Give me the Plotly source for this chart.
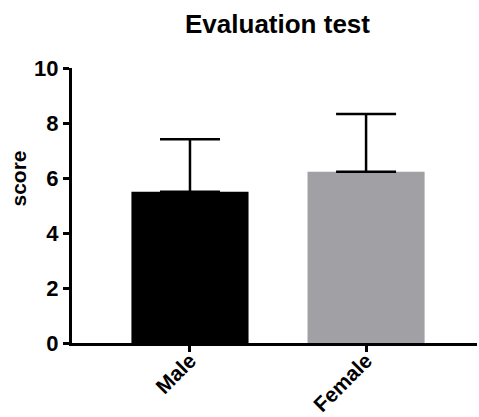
import plotly.graph_objects as go

categories = ["Male", "Female"]
means = [5.5, 6.23]
sds = [1.91, 2.1]
colors = ["#000000", "#A1A0A5"]
y_ticks = [0, 2, 4, 6, 8, 10]

FONT = "Arial, Liberation Sans, Helvetica, sans-serif"

fig = go.Figure()
fig.add_trace(go.Bar(
    x=categories, y=means,
    marker=dict(color=colors, line=dict(width=0)),
    width=0.665,
    error_y=dict(type="data", symmetric=False, array=sds,
                 arrayminus=[0] * len(sds), color="#000000",
                 thickness=2.5, width=30),
    showlegend=False,
))

fig.update_layout(
    width=479, height=417,
    margin=dict(l=72, r=2, t=68, b=74, autoexpand=False),
    plot_bgcolor="white", paper_bgcolor="white",
    font=dict(family=FONT, color="#000000"),
    title=dict(text="<b>Evaluation test</b>", xref="paper", x=(277.5 - 72) / 405,
               xanchor="center", y=1 - 24 / 417, yanchor="middle",
               font=dict(size=26, family=FONT, color="#000000")),
    xaxis=dict(
        range=[-0.67, 1.63], showline=True, linecolor="#000000", linewidth=3,
        ticks="outside", ticklen=6, tickwidth=3, tickcolor="#000000",
        tickangle=-45, tickfont=dict(size=21, family=FONT, color="#000000"),
        ticklabelstandoff=-12,
        showgrid=False, zeroline=False, automargin=False,
        tickvals=categories, ticktext=["<b>%s</b>" % c for c in categories],
    ),
    yaxis=dict(
        range=[0, 10], showline=True, linecolor="#000000", linewidth=3,
        ticks="outside", ticklen=6, tickwidth=3, tickcolor="#000000",
        tickvals=y_ticks, ticktext=["<b>%d</b>" % v for v in y_ticks],
        tickfont=dict(size=22, family=FONT, color="#000000"),
        showgrid=False, zeroline=False, automargin=False,
    ),
    annotations=[dict(
        text="<b>score</b>", textangle=-90, xref="paper", yref="paper",
        x=-(72 - 18) / 405, y=(343 - 178.5) / 275, xanchor="center", yanchor="middle",
        showarrow=False, font=dict(size=21, family=FONT, color="#000000"),
    )],
)

fig.write_html("out.html", config={"displayModeBar": False},
               post_script="document.body.style.margin='0';")
